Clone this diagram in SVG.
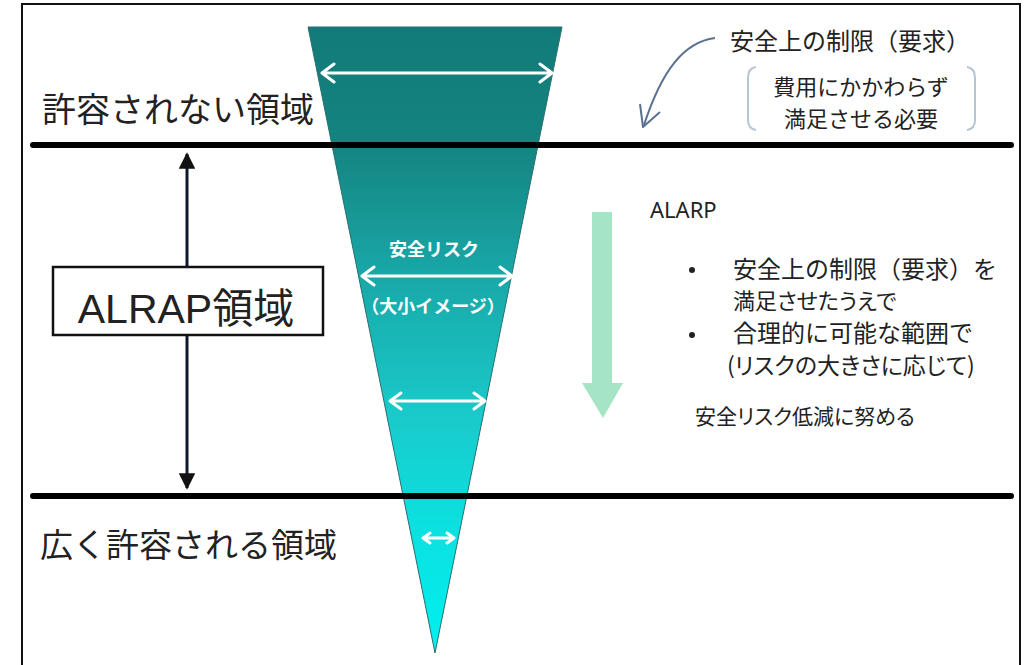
<svg xmlns="http://www.w3.org/2000/svg" width="1025" height="665" viewBox="0 0 1025 665">
<defs>
<linearGradient id="tri" gradientUnits="userSpaceOnUse" x1="0" y1="27" x2="0" y2="653">
<stop offset="0" stop-color="#127b79"/>
<stop offset="0.18" stop-color="#14837f"/>
<stop offset="0.4" stop-color="#19a8a8"/>
<stop offset="0.62" stop-color="#1acaca"/>
<stop offset="0.8" stop-color="#0ce0e0"/>
<stop offset="1" stop-color="#00f0f0"/>
</linearGradient>
<marker id="blk" viewBox="0 0 10 10" refX="9" refY="5" markerWidth="5.5" markerHeight="5.5" orient="auto-start-reverse" markerUnits="strokeWidth">
<path d="M0,0 L10,5 L0,10 z" fill="#111"/>
</marker>
</defs>
<style>
.jp{font-family:"Noto Sans CJK JP","Noto Sans",sans-serif;fill:#222}
.wa{fill:none;stroke:#fff;stroke-width:3;stroke-linecap:round;stroke-linejoin:round}
.hl{stroke:#000;stroke-width:6;stroke-linecap:round}
.br{fill:none;stroke:#b4c6d6;stroke-width:2}
</style>
<rect x="0" y="0" width="1025" height="665" fill="#fff"/>
<path d="M22,665 V4 H1020 V665" fill="none" stroke="#111" stroke-width="2"/>

<g id="triangle">
<polygon points="308,27 562,27 435,653" fill="url(#tri)" stroke="#2d6e6e" stroke-width="1"/>
<path class="wa" d="M322,73 H552 M334,64 L322,73 L334,82 M540,64 L552,73 L540,82"/>
<path class="wa" d="M362,276 H512 M374,267 L362,276 L374,285 M500,267 L512,276 L500,285"/>
<path class="wa" d="M390,401 H485 M401,393 L390,401 L401,409 M474,393 L485,401 L474,409"/>
<path class="wa" d="M423,538 H454 M430,533 L423,538 L430,543 M447,533 L454,538 L447,543"/>
<text x="434" y="256" text-anchor="middle" font-family="Noto Sans CJK JP, sans-serif" font-weight="bold" font-size="18" fill="#fff">安全リスク</text>
<text x="433" y="313" text-anchor="middle" font-family="Noto Sans CJK JP, sans-serif" font-weight="bold" font-size="18" fill="#fff">（大小イメージ）</text>
</g>

<g id="lines">
<line class="hl" x1="33" y1="145" x2="1011" y2="145"/>
<line class="hl" x1="33" y1="496" x2="1011" y2="496"/>
</g>

<g id="labels">
<text class="jp" x="42" y="122" font-size="34">許容されない領域</text>
<text class="jp" x="40" y="557" font-size="33">広く許容される領域</text>
</g>

<g id="connectors">
<line x1="187" y1="154" x2="187" y2="488" stroke="#101830" stroke-width="3" marker-start="url(#blk)" marker-end="url(#blk)"/>
<path d="M715,38 C684,42 662,70 644,125" fill="none" stroke="#5a7090" stroke-width="2"/>
<path d="M640,104 L643,127 L660,112" fill="none" stroke="#5a7090" stroke-width="2" stroke-linejoin="round"/>
</g>

<g id="alrap-box">
<rect x="53" y="267" width="270" height="68" fill="#fff" stroke="#111" stroke-width="2.5"/>
<text x="186" y="323" text-anchor="middle" font-family="Liberation Sans, Noto Sans CJK JP, sans-serif" font-size="41" fill="#222">ALRAP<tspan font-family="Noto Sans CJK JP, sans-serif">領域</tspan></text>
</g>

<g id="requirement">
<text class="jp" x="730" y="50" font-size="24">安全上の制限（要求）</text>
<path class="br" d="M756,67 Q748,68 748,78 V120 Q748,129 756,130"/>
<path class="br" d="M967,67 Q975,68 975,78 V120 Q975,129 967,130"/>
<text class="jp" x="861" y="95" font-size="22" text-anchor="middle">費用にかかわらず</text>
<text class="jp" x="861" y="127" font-size="22" text-anchor="middle">満足させる必要</text>
</g>

<g id="alarp">
<polygon points="592,212 612,212 612,383 623,383 603,418 582,383 592,383" fill="#a6e4c6"/>
<text x="650" y="218" font-family="Noto Sans, sans-serif" font-size="22" fill="#222">ALARP</text>
<circle cx="692" cy="270" r="3" fill="#222"/>
<text class="jp" x="733" y="278" font-size="24">安全上の制限（要求）を</text>
<text class="jp" x="733" y="309" font-size="22" style="font-feature-settings:'palt'">満足させたうえで</text>
<circle cx="692" cy="335" r="3" fill="#222"/>
<text class="jp" x="733" y="342" font-size="24">合理的に可能な範囲で</text>
<text class="jp" x="727" y="374" font-size="23" style="font-feature-settings:'palt'">(リスクの大きさに応じて)</text>
<text class="jp" x="695" y="424" font-size="21" style="font-feature-settings:'palt'">安全リスク低減に努める</text>
</g>
</svg>
